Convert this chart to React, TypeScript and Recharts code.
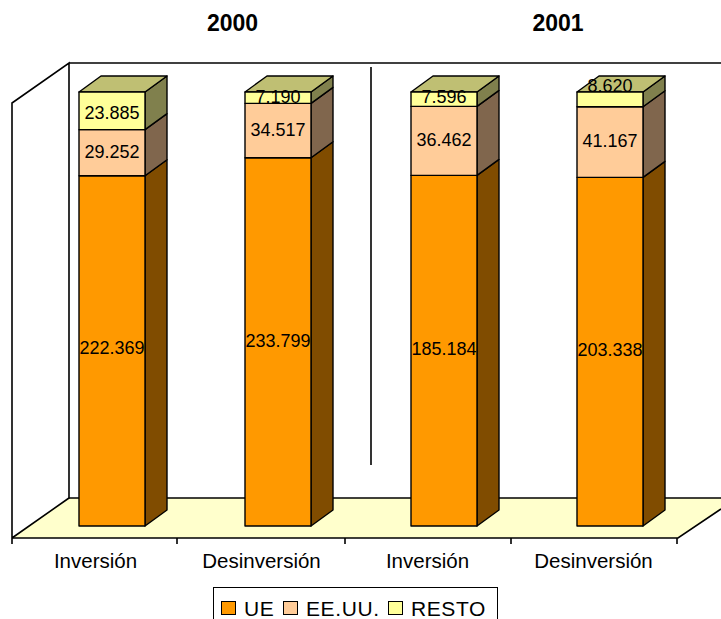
import { Bar, BarChart, LabelList, Legend, XAxis, YAxis } from "recharts"

const categories = ["Inversión", "Desinversión", "Inversión", "Desinversión"]
const ue = [222.369, 233.799, 185.184, 203.338]
const eeuu = [29.252, 34.517, 36.462, 41.167]
const resto = [23.885, 7.19, 7.596, 8.62]
const years = ["2000", "2001"]
const yearX = [232.5, 558]

// small shifts of the labels as they sit in the original, 8.620 is up on the top face
const ueLabelNudge = [-3, -1, -2, -2]
const eeuuLabelNudge = [-1, -1, -1, -1]
const restoLabelNudge = [2, -1, -2, -13]

const data = categories.map((name, i) => ({
  name,
  ue: ue[i],
  eeuu: eeuu[i],
  resto: resto[i],
}))

const FONT = "'Liberation Sans', Arial, sans-serif"
const DX = 22
const DY = 16

function box(front: string, side: string, top?: string) {
  return (props: any) => {
    const { x, y, width: w, height: h } = props
    const st = { stroke: "#000", strokeWidth: 1.4, strokeLinejoin: "round" as const }
    return (
      <g>
        <path
          d={`M${x + w},${y}L${x + w + DX},${y - DY}V${y + h - DY}L${x + w},${y + h}Z`}
          fill={side}
          {...st}
        />
        {top && (
          <path
            d={`M${x},${y}L${x + DX},${y - DY}H${x + w + DX}L${x + w},${y}Z`}
            fill={top}
            {...st}
          />
        )}
        <rect x={x} y={y} width={w} height={h} fill={front} {...st} />
      </g>
    )
  }
}

function barLabel(nudge: number[]) {
  return (props: any) => {
    const { x, y, width, height, value, index } = props
    return (
      <text
        x={x + width / 2}
        y={y + height / 2 + nudge[index]}
        textAnchor="middle"
        dominantBaseline="central"
        fontFamily={FONT}
        fontSize={18}
        fill="#000"
      >
        {Number(value).toFixed(3)}
      </text>
    )
  }
}

function CategoryTick(props: any) {
  const { x, y, payload } = props
  return (
    <text x={x - 16.5} y={y + 34} textAnchor="middle" fontFamily={FONT} fontSize={20.5} fill="#000">
      {payload.value}
    </text>
  )
}

function Stage() {
  const line = { stroke: "#000", strokeWidth: 1.6, fill: "none" }
  return (
    <g>
      <path d="M12,538L69,498H721V509L678,538Z" fill="#FFFFCC" />
      <path d="M12,538V103L69,63V498L12,538" {...line} />
      <path d="M69,63H721" {...line} />
      <path d="M69,498H721" {...line} />
      <path d="M371,67V465" {...line} />
      <path d="M12,538H678L721,509" {...line} />
      <path d="M12,538v6M177,538v6M345,538v6M511,538v6M677,538v6" {...line} />
      {years.map((year, i) => (
        <text
          key={year}
          x={yearX[i]}
          y={31}
          textAnchor="middle"
          fontFamily={FONT}
          fontSize={23}
          fontWeight="bold"
          fill="#000"
        >
          {year}
        </text>
      ))}
    </g>
  )
}

const legendItemWidth = [62, 105, 105]

function LegendBox({ payload }: any) {
  return (
    <div
      style={{
        boxSizing: "border-box",
        width: 285,
        height: 40,
        border: "1.5px solid #000",
        display: "flex",
        alignItems: "flex-start",
        paddingTop: 10,
        paddingLeft: 7,
        fontFamily: FONT,
        fontSize: 21,
        letterSpacing: 0.6,
        lineHeight: "20px",
        color: "#000",
      }}
    >
      {(payload || []).map((item: any, i: number) => (
        <span key={item.value} style={{ display: "flex", alignItems: "center", width: legendItemWidth[i], flex: "none" }}>
          <span
            style={{
              boxSizing: "border-box",
              flex: "none",
              width: 15,
              height: 14,
              background: item.color,
              border: "1.5px solid #000",
              marginRight: 8,
            }}
          />
          <span style={{ position: "relative", top: 1 }}>{item.value}</span>
        </span>
      ))}
    </div>
  )
}

export default function App() {
  return (
    <div style={{ position: "absolute", left: 0, top: 0, width: 721, height: 619, overflow: "hidden" }}>
      <BarChart
        width={721}
        height={619}
        data={data}
        stackOffset="expand"
        barSize={66}
        margin={{ top: 92, right: 28, bottom: 63, left: 29 }}
      >
        <Stage />
        <XAxis dataKey="name" height={30} axisLine={false} tickLine={false} interval={0} tick={CategoryTick} />
        <YAxis hide domain={[0, 1]} />
        <Legend
          layout="horizontal"
          verticalAlign="middle"
          itemSorter={null}
          content={<LegendBox />}
          wrapperStyle={{ position: "absolute", left: 213, top: 587, width: 285 }}
        />
        <Bar dataKey="ue" name="UE" stackId="a" fill="#FF9900" shape={box("#FF9900", "#804C00")} isAnimationActive={false}>
          <LabelList dataKey="ue" content={barLabel(ueLabelNudge)} />
        </Bar>
        <Bar dataKey="eeuu" name="EE.UU." stackId="a" fill="#FFCC99" shape={box("#FFCC99", "#80664D")} isAnimationActive={false}>
          <LabelList dataKey="eeuu" content={barLabel(eeuuLabelNudge)} />
        </Bar>
        <Bar dataKey="resto" name="RESTO" stackId="a" fill="#FFFF99" shape={box("#FFFF99", "#80804D", "#BFBF73")} isAnimationActive={false}>
          <LabelList dataKey="resto" content={barLabel(restoLabelNudge)} />
        </Bar>
      </BarChart>
    </div>
  )
}
